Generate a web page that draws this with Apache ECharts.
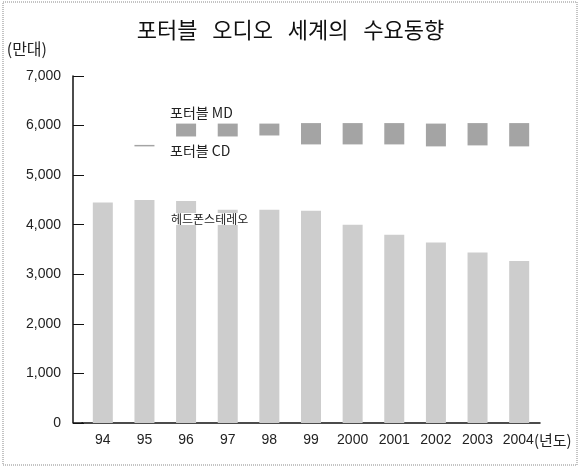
<!DOCTYPE html>
<html>
<head>
<meta charset="utf-8">
<script src="https://cdn.jsdelivr.net/npm/echarts@6/dist/echarts.min.js"></script>
<style>
  html, body { margin: 0; padding: 0; background: #fff; }
  #chart { width: 581px; height: 467px; }
</style>
</head>
<body>
<div id="chart"></div>
<script>
// 연도 (x축)
var years = ['94', '95', '96', '97', '98', '99', '2000', '2001', '2002', '2003', '2004(년도)']
// 헤드폰스테레오 (만대)
var headphone = [4450, 4500, 4480, 4300, 4300, 4280, 4000, 3800, 3640, 3440, 3270]
// 포터블 CD (그림에서 색 없이 쌓인 부분)
var portableCD = [null, 1080, 1300, 1480, 1500, 1340, 1620, 1820, 1940, 2160, 2310]
// 포터블 MD
var portableMD = [null, 30, 260, 260, 240, 430, 430, 430, 460, 450, 470]
// y축 눈금
var yMin = 0
var yMax = 7000
var yStep = 1000

var numFont = '"Liberation Sans", Arial, sans-serif'
var korFont = '"Noto Sans CJK KR", "Noto Sans", sans-serif'

var chart = echarts.init(document.getElementById('chart'))

var option = {
  backgroundColor: '#fff',
  animation: false,
  title: {
    text: '포터블   오디오   세계의   수요동향',
    left: 'center',
    top: 14,
    textStyle: {
      fontFamily: korFont,
      fontSize: 22,
      fontWeight: 'normal',
      color: '#111'
    }
  },
  grid: {
    left: 82,
    right: 41,
    top: 76,
    bottom: 44
  },
  xAxis: {
    type: 'category',
    data: years,
    axisLine: { lineStyle: { color: '#111', width: 1.5 } },
    axisTick: { show: false },
    axisLabel: {
      interval: 0,
      color: '#222',
      fontFamily: numFont,
      fontSize: 14,
      margin: 10,
      formatter: function (v) {
        // 마지막 라벨은 숫자가 막대 가운데 오도록 앞에 빈칸을 둔다
        if (v.indexOf('(') > 0) {
          var p = v.split('(')
          return '{s|}{n|' + p[0] + '}{k|(' + p[1] + '}'
        }
        return v
      },
      rich: {
        s: { width: 36 },
        n: { fontFamily: numFont, fontSize: 14, color: '#222' },
        k: { fontFamily: korFont, fontSize: 15, color: '#222' }
      }
    }
  },
  yAxis: {
    type: 'value',
    min: yMin,
    max: yMax,
    interval: yStep,
    offset: 9,
    name: '(만대)',
    nameLocation: 'end',
    nameGap: 19,
    nameTextStyle: {
      fontFamily: korFont,
      fontSize: 16,
      color: '#222',
      align: 'right',
      padding: [0, 26, 0, 0]
    },
    axisLine: { show: true, lineStyle: { color: '#111', width: 1.5 } },
    axisTick: { show: true, inside: true, length: 11, lineStyle: { color: '#111' } },
    splitLine: { show: false },
    axisLabel: {
      color: '#222',
      fontFamily: numFont,
      fontSize: 14,
      margin: 12,
      formatter: function (v) {
        return v.toLocaleString('en-US')
      }
    }
  },
  series: [
    {
      name: '헤드폰스테레오',
      type: 'bar',
      stack: 'total',
      barWidth: 20,
      data: headphone,
      itemStyle: { color: '#cdcdcd' }
    },
    {
      name: '포터블 CD',
      type: 'bar',
      stack: 'total',
      barWidth: 20,
      data: portableCD,
      itemStyle: { color: 'rgba(0,0,0,0)' }
    },
    {
      name: '포터블 MD',
      type: 'bar',
      stack: 'total',
      barWidth: 20,
      data: portableMD,
      itemStyle: { color: '#a4a4a4' }
    }
  ],
  graphic: [
    {
      type: 'rect',
      shape: { x: 3, y: 2, width: 574, height: 463 },
      style: { fill: 'none', stroke: '#888', lineWidth: 1, lineDash: [1, 1] },
      silent: true
    },
    {
      // y축을 왼쪽으로 옮겨서 생긴 x축 빈 부분 잇기
      type: 'line',
      shape: { x1: 73, y1: 423, x2: 83, y2: 423 },
      style: { stroke: '#111', lineWidth: 1.5 },
      silent: true
    },
    {
      type: 'text',
      left: 170,
      top: 106,
      z: 100,
      style: { text: '포터블 MD', fontFamily: korFont, fontSize: 14, fill: '#222' }
    },
    {
      type: 'text',
      left: 170,
      top: 144,
      z: 100,
      style: { text: '포터블 CD', fontFamily: korFont, fontSize: 14, fill: '#222' }
    },
    {
      type: 'text',
      left: 171,
      top: 213,
      z: 100,
      style: {
        text: '헤드폰스테레오',
        fontFamily: korFont,
        fontSize: 12,
        fill: '#222',
        backgroundColor: '#fff'
      }
    }
  ]
}

chart.setOption(option)
</script>
</body>
</html>
